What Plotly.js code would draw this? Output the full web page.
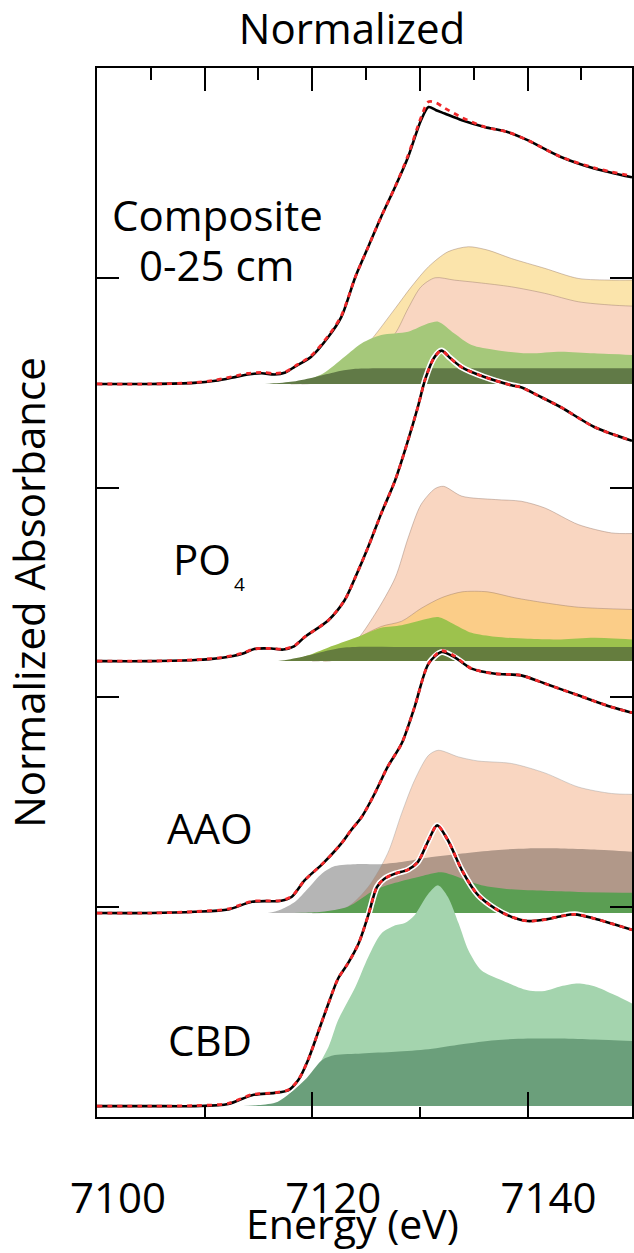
<!DOCTYPE html>
<html><head><meta charset="utf-8">
<script src="https://cdn.plot.ly/plotly-3.0.1.min.js"></script>
<style>
html,body{margin:0;padding:0;background:#fff;}
#chart{width:634px;height:1253px;}
.traceaaopeach .js-fill, .tracecbdlight .js-fill {mix-blend-mode:multiply;}
</style></head><body><div id="chart"></div>
<script>
// ---------- axis ticks ----------
const energyTicks = [7100, 7120, 7140];
const energyTickText = ['7100', '7120', '7140'];
const energyMinorBottom = [7110, 7130];
const energyTopMajor = [7110, 7120, 7130, 7140];
const energyTopMinor = [7105, 7115, 7125, 7135, 7145];
const absTicks = [1, 2, 3, 4];

// ---------- vertical offsets of the stacked spectra (normalized units) ----------
const offsets = {composite: 3.494, po4: 2.173, aao: 0.972, cbd: 0.052};

// ---------- Composite 0-25 cm ----------
const compE    = [7100, 7105, 7109, 7111, 7113, 7114, 7115.3, 7116.5, 7117.5, 7118.4, 7119.9, 7121.5, 7122.7, 7124.0, 7125.2, 7126.4, 7127.7, 7128.9, 7130.1, 7130.8, 7131.5, 7132.3, 7133.9, 7136.0, 7138.2, 7140.0, 7143.1, 7146.2, 7149.7];
const compData = [0, 0, 0.005, 0.015, 0.035, 0.045, 0.051, 0.045, 0.055, 0.083, 0.13, 0.225, 0.32, 0.51, 0.654, 0.797, 0.94, 1.082, 1.257, 1.32, 1.305, 1.289, 1.257, 1.225, 1.20, 1.162, 1.082, 1.027, 0.985];
const compFit  = [0, 0, 0.006, 0.018, 0.04, 0.05, 0.055, 0.05, 0.058, 0.085, 0.135, 0.23, 0.325, 0.51, 0.654, 0.797, 0.94, 1.09, 1.27, 1.345, 1.34, 1.315, 1.27, 1.225, 1.20, 1.162, 1.082, 1.03, 0.99];
const compBandE = [7115, 7116, 7118, 7120, 7122, 7124, 7130, 7140, 7149.7];
const compBand  = [0, 0.001, 0.01, 0.03, 0.055, 0.072, 0.075, 0.075, 0.075];
const compGreenE = [7116, 7117, 7119, 7121, 7123, 7124.6, 7126.4, 7128.9, 7130.8, 7131.7, 7133.2, 7134.8, 7137.0, 7140.0, 7143.1, 7146.2, 7149.7];
const compGreen  = [0, 0.002, 0.012, 0.05, 0.13, 0.194, 0.233, 0.249, 0.289, 0.297, 0.241, 0.186, 0.162, 0.146, 0.154, 0.146, 0.138];
const compPeachE = [7119, 7120, 7123.0, 7124.6, 7126.4, 7127.7, 7128.9, 7130.1, 7131.4, 7133.2, 7135.4, 7138.5, 7141.6, 7144.7, 7147.8, 7149.7];
const compPeach  = [0, 0.003, 0.035, 0.098, 0.178, 0.241, 0.36, 0.463, 0.506, 0.495, 0.483, 0.463, 0.432, 0.392, 0.376, 0.371];
const compYellowE = [7118, 7119, 7121.0, 7123.0, 7125.2, 7127.7, 7129.2, 7130.8, 7132.6, 7134.5, 7136.3, 7138.5, 7141.6, 7144.7, 7147.8, 7149.7];
const compYellow  = [0, 0.002, 0.015, 0.082, 0.194, 0.36, 0.463, 0.559, 0.63, 0.654, 0.638, 0.598, 0.551, 0.503, 0.495, 0.495];

// ---------- PO4 ----------
const po4E    = [7100, 7105, 7109.1, 7111.5, 7113.5, 7114.6, 7116.2, 7117.3, 7118.3, 7119.3, 7121.5, 7123.0, 7124.0, 7125.2, 7126.4, 7127.7, 7128.9, 7129.8, 7130.5, 7131.3, 7132.0, 7132.8, 7133.9, 7136.0, 7138.5, 7139.4, 7141.0, 7143.1, 7146.2, 7149.7];
const po4Data = [0, 0, 0.005, 0.015, 0.035, 0.058, 0.06, 0.055, 0.07, 0.115, 0.195, 0.29, 0.40, 0.545, 0.703, 0.862, 1.053, 1.21, 1.345, 1.445, 1.48, 1.445, 1.40, 1.354, 1.315, 1.305, 1.265, 1.21, 1.116, 1.05];
const po4Fit  = [0, 0, 0.006, 0.017, 0.038, 0.058, 0.06, 0.057, 0.072, 0.115, 0.195, 0.29, 0.40, 0.545, 0.703, 0.862, 1.053, 1.21, 1.345, 1.445, 1.48, 1.445, 1.40, 1.354, 1.315, 1.305, 1.265, 1.21, 1.116, 1.05];
const po4BandE = [7116, 7117, 7119, 7121, 7123, 7130, 7149.7];
const po4Band  = [0, 0.002, 0.02, 0.045, 0.065, 0.067, 0.067];
const po4GreenE = [7117, 7118, 7119.5, 7121.5, 7124.0, 7126.4, 7128.3, 7130.8, 7131.7, 7133.2, 7134.8, 7137.0, 7140.0, 7143.1, 7146.2, 7149.7];
const po4Green  = [0, 0.003, 0.025, 0.065, 0.111, 0.159, 0.171, 0.203, 0.21, 0.175, 0.135, 0.116, 0.106, 0.103, 0.111, 0.103];
const po4OrangeE = [7121, 7122, 7124.0, 7126.4, 7128.3, 7130.1, 7132.0, 7133.9, 7136.3, 7138.8, 7141.6, 7144.7, 7149.7];
const po4Orange  = [0, 0.005, 0.10, 0.165, 0.19, 0.251, 0.302, 0.33, 0.33, 0.302, 0.278, 0.257, 0.246];
const po4PeachE = [7120, 7121, 7124.0, 7125.8, 7127.7, 7128.9, 7130.1, 7131.4, 7132.2, 7133.9, 7137.0, 7139.4, 7141.6, 7144.7, 7147.8, 7149.7];
const po4Peach  = [0, 0.005, 0.095, 0.222, 0.397, 0.587, 0.746, 0.822, 0.833, 0.786, 0.77, 0.762, 0.73, 0.651, 0.611, 0.608];

// ---------- AAO ----------
const aaoE    = [7100, 7105, 7109.1, 7112.2, 7114.4, 7117.1, 7118.1, 7119.3, 7121.0, 7122.7, 7123.6, 7124.6, 7125.8, 7127.0, 7128.3, 7129.5, 7130.8, 7132.0, 7133.2, 7134.8, 7137.0, 7139.4, 7141.6, 7144.7, 7147.8, 7149.7];
const aaoData = [0, 0, 0.006, 0.017, 0.054, 0.059, 0.078, 0.157, 0.237, 0.332, 0.395, 0.459, 0.57, 0.697, 0.808, 0.982, 1.189, 1.244, 1.22, 1.165, 1.141, 1.133, 1.094, 1.038, 0.982, 0.955];
const aaoFit  = [0, 0, 0.007, 0.02, 0.056, 0.06, 0.08, 0.157, 0.237, 0.332, 0.395, 0.459, 0.57, 0.697, 0.808, 0.982, 1.189, 1.25, 1.225, 1.165, 1.141, 1.133, 1.094, 1.038, 0.982, 0.955];
const aaoGrayE = [7115, 7116, 7117.1, 7118.4, 7119.6, 7120.9, 7122.1, 7124.0, 7126.1, 7128.3, 7130.8, 7133.9, 7137.0, 7140.0, 7143.1, 7146.2, 7149.7];
const aaoGray  = [0, 0.002, 0.017, 0.054, 0.117, 0.189, 0.224, 0.233, 0.233, 0.244, 0.265, 0.284, 0.30, 0.308, 0.308, 0.303, 0.292];
const aaoPeachE = [7120, 7121, 7123.3, 7125.2, 7127.0, 7128.3, 7129.5, 7130.8, 7131.7, 7133.6, 7135.4, 7138.5, 7141.6, 7144.7, 7147.8, 7149.7];
const aaoPeach  = [0, 0.003, 0.03, 0.125, 0.284, 0.475, 0.633, 0.752, 0.776, 0.744, 0.725, 0.713, 0.668, 0.601, 0.57, 0.566];
const aaoGreenE = [7118, 7119, 7120.9, 7123.3, 7125.8, 7127.7, 7130.1, 7132.0, 7133.9, 7135.7, 7138.5, 7141.6, 7144.7, 7149.7];
const aaoGreen  = [0, 0.001, 0.006, 0.03, 0.11, 0.144, 0.176, 0.195, 0.165, 0.133, 0.113, 0.106, 0.101, 0.097];

// ---------- CBD ----------
const cbdE    = [7100, 7105, 7109.1, 7112.2, 7114.4, 7116.5, 7117.8, 7118.7, 7119.6, 7120.5, 7121.5, 7122.4, 7123.3, 7124.3, 7125.2, 7126.0, 7126.7, 7127.7, 7128.9, 7129.8, 7130.8, 7131.6, 7132.6, 7133.9, 7135.4, 7137.0, 7138.5, 7140.0, 7141.6, 7143.1, 7144.4, 7146.2, 7147.8, 7149.7];
const cbdData = [0, 0, 0, 0.01, 0.052, 0.063, 0.076, 0.124, 0.219, 0.346, 0.489, 0.608, 0.679, 0.775, 0.91, 1.044, 1.084, 1.108, 1.127, 1.163, 1.267, 1.338, 1.267, 1.124, 1.005, 0.941, 0.902, 0.882, 0.889, 0.905, 0.914, 0.894, 0.87, 0.84];
const cbdFit  = [0, 0, 0.002, 0.013, 0.055, 0.064, 0.078, 0.126, 0.219, 0.346, 0.489, 0.608, 0.679, 0.775, 0.91, 1.044, 1.084, 1.108, 1.127, 1.163, 1.267, 1.338, 1.267, 1.124, 1.005, 0.941, 0.902, 0.882, 0.889, 0.905, 0.914, 0.894, 0.87, 0.84];
const cbdDarkE = [7113, 7115, 7116.8, 7119.3, 7120.9, 7122.1, 7124.6, 7127.7, 7130.8, 7133.9, 7137.0, 7140.0, 7143.1, 7146.2, 7149.7];
const cbdDark  = [0, 0.005, 0.021, 0.124, 0.219, 0.243, 0.251, 0.259, 0.271, 0.295, 0.314, 0.322, 0.322, 0.317, 0.31];
const cbdLightE = [7118, 7120.0, 7121.5, 7122.4, 7124.0, 7125.2, 7126.4, 7127.7, 7128.6, 7129.5, 7130.8, 7131.7, 7132.6, 7133.6, 7134.5, 7135.7, 7137.6, 7140.0, 7141.6, 7143.1, 7144.7, 7146.2, 7148.1, 7149.7];
const cbdLight  = [0.05, 0.15, 0.282, 0.41, 0.568, 0.711, 0.822, 0.862, 0.873, 0.91, 1.013, 1.052, 0.997, 0.87, 0.743, 0.648, 0.60, 0.552, 0.549, 0.571, 0.584, 0.571, 0.529, 0.489];

// ---------- text ----------
const topTitle = 'Normalized';
const xTitle = 'Energy (eV)';
const yTitle = 'Normalized Absorbance';

// ---------- build ----------
const FONT = 'Open Sans, sans-serif';
const XMAX = 7149.7;
const SM = 0.8;

function area(x, y, yaxis, color, outline, uid, fillMode) {
  const t = {type: 'scatter', mode: 'lines', x: x, y: y, yaxis: yaxis, fill: fillMode || 'tozeroy', fillcolor: color,
    line: {color: outline || 'rgba(0,0,0,0)', width: outline ? 0.8 : 0, shape: 'spline', smoothing: SM},
    hoverinfo: 'skip', showlegend: false};
  if (uid) t.uid = uid;
  return t;
}
function spectrum(x, data, fit, yaxis) {
  return [
    {type: 'scatter', mode: 'lines', x: x, y: data, yaxis: yaxis, hoverinfo: 'skip', showlegend: false,
     line: {color: '#ffffff', width: 6, shape: 'spline', smoothing: SM}},
    {type: 'scatter', mode: 'lines', x: x, y: data, yaxis: yaxis, hoverinfo: 'skip', showlegend: false,
     line: {color: '#000000', width: 2.6, shape: 'spline', smoothing: SM}},
    {type: 'scatter', mode: 'lines', x: x, y: fit, yaxis: yaxis, hoverinfo: 'skip', showlegend: false,
     line: {color: '#f0282a', width: 2.8, dash: '5px,5px', shape: 'spline', smoothing: SM}}
  ];
}
const outline = 'rgba(150,120,105,0.55)';

// The CBD light-green component is drawn in the AAO layer (shifted to the CBD baseline)
// so that its peak can blend with the AAO green band, as in the original figure.
const cbdShift = offsets.cbd - offsets.aao;
const cbdBaseInAao = cbdLightE.map(() => cbdShift);
const cbdLightInAao = cbdLight.map(v => v + cbdShift);

const traces = [
  {type: 'scatter', mode: 'lines', x: [], y: [], xaxis: 'x', yaxis: 'y', showlegend: false, hoverinfo: 'skip'},
  {type: 'scatter', mode: 'lines', x: [], y: [], xaxis: 'x2', yaxis: 'y', showlegend: false, hoverinfo: 'skip'},
  // Composite
  area(compYellowE, compYellow, 'y2', '#fbe4ab', outline),
  area(compPeachE, compPeach, 'y2', '#f9d6c1', outline),
  area(compGreenE, compGreen, 'y2', '#a5c87a'),
  area(compBandE, compBand, 'y2', '#617a47'),
  ...spectrum(compE, compData, compFit, 'y2'),
  // PO4
  area(po4PeachE, po4Peach, 'y3', '#f9d6c1', outline),
  area(po4OrangeE, po4Orange, 'y3', '#fbcd88', outline),
  area(po4GreenE, po4Green, 'y3', '#9dc24d'),
  area(po4BandE, po4Band, 'y3', '#657d3e'),
  ...spectrum(po4E, po4Data, po4Fit, 'y3'),
  // AAO
  area(aaoGrayE, aaoGray, 'y4', '#b5b5b5'),
  area(aaoPeachE, aaoPeach, 'y4', '#f9d6c1', 'rgba(150,150,150,0.5)', 'aaopeach'),
  area(aaoGreenE, aaoGreen, 'y4', '#5b9e53'),
  {type: 'scatter', mode: 'lines', x: cbdLightE, y: cbdBaseInAao, yaxis: 'y4', hoverinfo: 'skip', showlegend: false,
   line: {color: 'rgba(0,0,0,0)', width: 0}},
  area(cbdLightE, cbdLightInAao, 'y4', '#a4d4ae', null, 'cbdlight', 'tonexty'),
  ...spectrum(aaoE, aaoData, aaoFit, 'y4'),
  // CBD
  area(cbdDarkE, cbdDark, 'y5', '#6b9f7b'),
  ...spectrum(cbdE, cbdData, cbdFit, 'y5')
];

function overlay(off) {
  return {overlaying: 'y', range: [-off, 5 - off], visible: false, fixedrange: true};
}
const txt = {family: FONT, size: 42, color: '#000'};
function px2x(p) { return (p - 97) / 535; }
function py2y(p) { return (1117 - p) / 1049; }
function label(text, cx, cy, size) {
  return {text: text, xref: 'paper', yref: 'paper', x: px2x(cx), y: py2y(cy), xanchor: 'center', yanchor: 'middle',
          showarrow: false, font: {family: FONT, size: size || 42, color: '#000'}};
}

const layout = {
  width: 634, height: 1253,
  margin: {l: 97, r: 2, t: 68, b: 136, pad: 0},
  paper_bgcolor: '#fff', plot_bgcolor: '#fff',
  showlegend: false,
  title: {text: topTitle, font: txt, x: px2x(352), xref: 'paper', xanchor: 'center', y: 1 - 15 / 1253, yref: 'container', yanchor: 'top'},
  xaxis: {
    range: [7100, XMAX], showgrid: false, zeroline: false,
    showline: true, linewidth: 2, linecolor: '#000', mirror: false,
    ticks: 'inside', ticklen: 25, tickwidth: 2, tickcolor: '#000',
    tickmode: 'array', tickvals: energyTicks, ticktext: energyTickText,
    tickfont: txt, ticklabelshift: 21, ticklabelstandoff: 44,
    minor: {tickmode: 'array', tickvals: energyMinorBottom, ticks: 'inside', ticklen: 10, tickwidth: 2, tickcolor: '#000', showgrid: false}
  },
  xaxis2: {
    overlaying: 'x', side: 'top', anchor: 'y', range: [7100, XMAX], showgrid: false, zeroline: false,
    showline: true, linewidth: 2, linecolor: '#000',
    ticks: 'inside', ticklen: 23, tickwidth: 2, tickcolor: '#000',
    tickmode: 'array', tickvals: energyTopMajor, showticklabels: false,
    minor: {tickmode: 'array', tickvals: energyTopMinor, ticks: 'inside', ticklen: 12, tickwidth: 2, tickcolor: '#000', showgrid: false}
  },
  yaxis: {
    range: [0, 5], showgrid: false, zeroline: false,
    showline: true, linewidth: 2, linecolor: '#000', mirror: 'ticks',
    ticks: 'inside', ticklen: 22, tickwidth: 2, tickcolor: '#000',
    tickmode: 'array', tickvals: absTicks, showticklabels: false,
    title: {text: yTitle, font: txt, standoff: 40}
  },
  yaxis2: overlay(offsets.composite),
  yaxis3: overlay(offsets.po4),
  yaxis4: overlay(offsets.aao),
  yaxis5: overlay(offsets.cbd),
  annotations: [
    label(xTitle, 352, 1223, 41),
    label('Composite', 217, 214),
    label('0-25 cm', 216, 264),
    label('PO', 201.5, 558),
    label('4', 239, 584, 19),
    label('AAO', 210, 827),
    label('CBD', 209.5, 1039)
  ]
};

Plotly.newPlot('chart', traces, layout, {staticPlot: true, displayModeBar: false});
</script></body></html>
